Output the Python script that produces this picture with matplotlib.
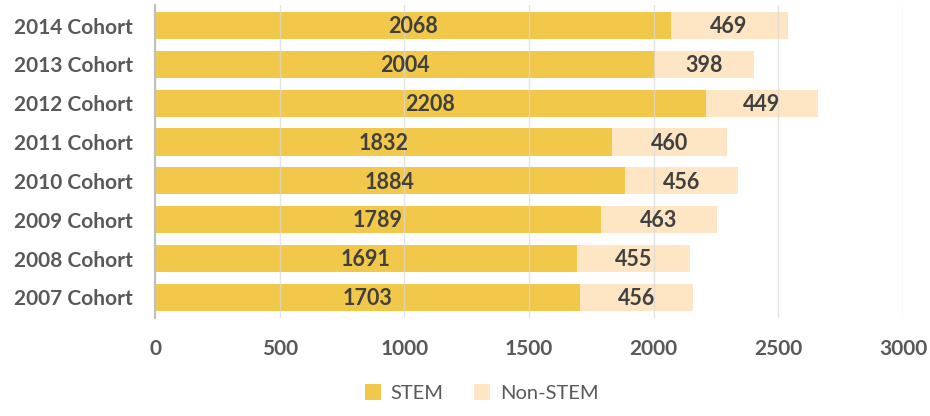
import matplotlib
matplotlib.use("Agg")
import matplotlib.pyplot as plt

# data
cohorts = ['2007 Cohort', '2008 Cohort', '2009 Cohort', '2010 Cohort',
           '2011 Cohort', '2012 Cohort', '2013 Cohort', '2014 Cohort']
stem = [1703, 1691, 1789, 1884, 1832, 2208, 2004, 2068]
non_stem = [456, 455, 463, 456, 460, 449, 398, 469]
xticks = [0, 500, 1000, 1500, 2000, 2500, 3000]

plt.rcParams['font.family'] = ['Lato', 'DejaVu Sans']

fig = plt.figure(figsize=(9.3, 4.16), dpi=100)
ax = fig.add_axes([0.1667, 0.2356, 0.8043, 0.7524])

y = list(range(len(cohorts)))
b1 = ax.barh(y, stem, height=0.7, color='#F2C84B', label='STEM', zorder=2)
b2 = ax.barh(y, non_stem, left=stem, height=0.7, color='#FEE5C3',
             label='Non-STEM', zorder=2)

for i in y:
    ax.text(stem[i] / 2, i - 0.03, str(stem[i]), ha='center', va='center',
            fontsize=15.5, fontweight='bold', color='#404040', zorder=4)
    ax.text(stem[i] + non_stem[i] / 2, i - 0.03, str(non_stem[i]), ha='center',
            va='center', fontsize=15.5, fontweight='bold', color='#404040', zorder=4)

ax.set_xlim(0, 3000)
ax.set_ylim(-0.53, 7.53)
ax.set_xticks(xticks)
ax.set_xticklabels([str(t) for t in xticks])
ax.set_yticks(y)
ax.set_yticklabels(cohorts)
ax.grid(axis='x', color='#D9D9D9', linewidth=1, alpha=0.7, zorder=3)
ax.set_axisbelow(False)
for s in ['top', 'right', 'bottom']:
    ax.spines[s].set_visible(False)
ax.spines['left'].set_color('#BFBFBF')
ax.spines['left'].set_linewidth(1.5)
ax.spines['left'].set_zorder(5)
ax.tick_params(axis='both', length=0, labelsize=15, colors='#595959')
ax.tick_params(axis='x', pad=15)
ax.tick_params(axis='y', pad=16)
for lab in ax.get_xticklabels() + ax.get_yticklabels():
    lab.set_fontweight('bold')

leg = fig.legend(handles=[b1, b2], loc='lower center', bbox_to_anchor=(0.518, -0.01),
                 ncol=2, frameon=False, fontsize=14.5, handlelength=0.8,
                 handleheight=0.8, columnspacing=1.5, handletextpad=0.5)
for t in leg.get_texts():
    t.set_color('#595959')

fig.savefig('out.png', dpi=100)
